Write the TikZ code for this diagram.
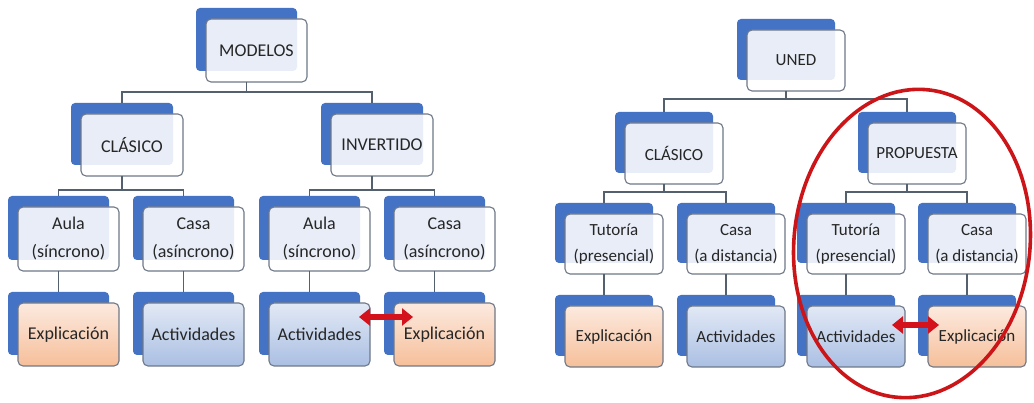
\documentclass[tikz,border=0pt]{standalone}
\usepackage{fontspec}
\setmainfont{Carlito}
\usetikzlibrary{arrows.meta,shapes.geometric}
\definecolor{backblue}{HTML}{4472C4}
\definecolor{boxline}{HTML}{6E7888}
\definecolor{connline}{HTML}{55606E}
\definecolor{txt}{HTML}{262626}
\definecolor{peachtop}{HTML}{FCEADF}
\definecolor{peachbot}{HTML}{F6BF9A}
\definecolor{bluetop}{HTML}{E2E9F5}
\definecolor{bluebot}{HTML}{AABFE3}
\definecolor{ringred}{HTML}{CC1518}
\definecolor{arrowred}{HTML}{D4121C}
\tikzset{
  backbox/.style={fill=backblue, draw=none, rounded corners=4pt, inner sep=0pt, outer sep=0pt},
  frontbox/.style={draw=boxline, line width=1.1pt, rounded corners=5pt, inner sep=0pt, outer sep=0pt,
                   align=center, text=txt, text opacity=1},
  plainfill/.style={fill=white, fill opacity=0.88},
  peachfill/.style={top color=peachtop, bottom color=peachbot},
  bluefill/.style={top color=bluetop, bottom color=bluebot},
  lfont/.style={font=\fontsize{18}{28}\selectfont},
  rfont/.style={font=\fontsize{17}{26}\selectfont},
  conn/.style={draw=connline, line width=1.2pt},
  swaparrow/.style={draw=arrowred, line width=6pt,
               {Triangle[length=11pt,width=17pt]}-{Triangle[length=11pt,width=17pt]}},
  ring/.style={draw=ringred, line width=3.6pt, ellipse, inner sep=0pt}
}
\newcommand\mybox[7]{%
  \node[backbox, minimum width=#4pt, minimum height=#5pt] (#1b) at ({#2+#4/2},{#3+#5/2}) {};
  \node[frontbox, #6, minimum width=#4pt, minimum height=#5pt] (#1) at ({#2+#4/2+10},{#3+#5/2+11}) {#7};
}
\begin{document}
\begin{tikzpicture}[x=1pt,y=-1pt]
\fill[white] (0,0) rectangle (1034,403);
\path[use as bounding box] (0,0) rectangle (1034,403);

% ---------------- left tree ----------------
\mybox{M}{196}{8}{101}{63}{plainfill,lfont}{MODELOS}
\mybox{LC}{71}{103}{102}{62}{plainfill,lfont}{CLÁSICO}
\mybox{LI}{321}{103}{102}{62}{plainfill,lfont}{INVERTIDO}
\mybox{LA1}{8}{196}{101}{64}{plainfill,lfont}{Aula\\(síncrono)}
\mybox{LK1}{133}{196}{101}{64}{plainfill,lfont}{Casa\\(asíncrono)}
\mybox{LA2}{259}{196}{101}{64}{plainfill,lfont}{Aula\\(síncrono)}
\mybox{LK2}{384}{196}{101}{64}{plainfill,lfont}{Casa\\(asíncrono)}
\mybox{LE1}{8}{292}{101}{63}{peachfill,lfont}{Explicación}
\mybox{LD1}{133}{292}{101}{63}{bluefill,lfont}{Actividades}
\mybox{LD2}{259}{292}{101}{63}{bluefill,lfont}{Actividades}
\mybox{LE2}{384}{292}{101}{63}{peachfill,lfont}{Explicación}

\coordinate (jL0) at (246.5,92);
\coordinate (jL1) at (122,190);
\coordinate (jL2) at (372,190);
\draw[conn] (Mb.center |- M.south) -- (jL0) -| (LCb.north);
\draw[conn] (jL0) -| (LIb.north);
\draw[conn] (LCb.center |- LC.south) -- (jL1) -| (LA1b.north);
\draw[conn] (jL1) -| (LK1b.north);
\draw[conn] (LIb.center |- LI.south) -- (jL2) -| (LA2b.north);
\draw[conn] (jL2) -| (LK2b.north);
\draw[conn] (LA1b.center |- LA1.south) -- (LE1b.north);
\draw[conn] (LK1b.center |- LK1.south) -- (LD1b.north);
\draw[conn] (LA2b.center |- LA2.south) -- (LD2b.north);
\draw[conn] (LK2b.center |- LK2.south) -- (LE2b.north);

\coordinate (la) at (359,317);
\coordinate (lb) at (413,317);
\draw[swaparrow] (la) -- (lb);

% ---------------- right tree ----------------
\mybox{U}{737}{19}{98}{61}{plainfill,rfont}{UNED}
\mybox{RC}{615}{112}{98}{61}{plainfill,rfont}{CLÁSICO}
\mybox{RP}{858}{112}{98}{61}{plainfill,rfont}{PROPUESTA}
\mybox{RT1}{555}{203}{98}{60}{plainfill,rfont}{Tutoría\\(presencial)}
\mybox{RK1}{677}{203}{98}{60}{plainfill,rfont}{Casa\\(a distancia)}
\mybox{RT2}{797}{203}{98}{60}{plainfill,rfont}{Tutoría\\(presencial)}
\mybox{RK2}{918}{203}{98}{60}{plainfill,rfont}{Casa\\(a distancia)}
\mybox{RE1}{555}{295}{98}{61}{peachfill,rfont}{Explicación}
\mybox{RD1}{677}{295}{98}{61}{bluefill,rfont}{Actividades}
\mybox{RD2}{797}{295}{98}{61}{bluefill,rfont}{Actividades}
\mybox{RE2}{918}{295}{98}{61}{peachfill,rfont}{Explicación}

\coordinate (jR0) at (786,99);
\coordinate (jR1) at (664,192);
\coordinate (jR2) at (907,192);
\draw[conn] (Ub.center |- U.south) -- (jR0) -| (RCb.north);
\draw[conn] (jR0) -| (RPb.north);
\draw[conn] (RCb.center |- RC.south) -- (jR1) -| (RT1b.north);
\draw[conn] (jR1) -| (RK1b.north);
\draw[conn] (RPb.center |- RP.south) -- (jR2) -| (RT2b.north);
\draw[conn] (jR2) -| (RK2b.north);
\draw[conn] (RT1b.center |- RT1.south) -- (RE1b.north);
\draw[conn] (RK1b.center |- RK1.south) -- (RD1b.north);
\draw[conn] (RT2b.center |- RT2.south) -- (RD2b.north);
\draw[conn] (RK2b.center |- RK2.south) -- (RE2b.north);

\coordinate (ra) at (892,325);
\coordinate (rb) at (939,325);
\draw[swaparrow] (ra) -- (rb);

\node[ring, minimum width=236pt, minimum height=309pt, rotate=-6] (oval) at (912,243.5) {};
\end{tikzpicture}
\end{document}
